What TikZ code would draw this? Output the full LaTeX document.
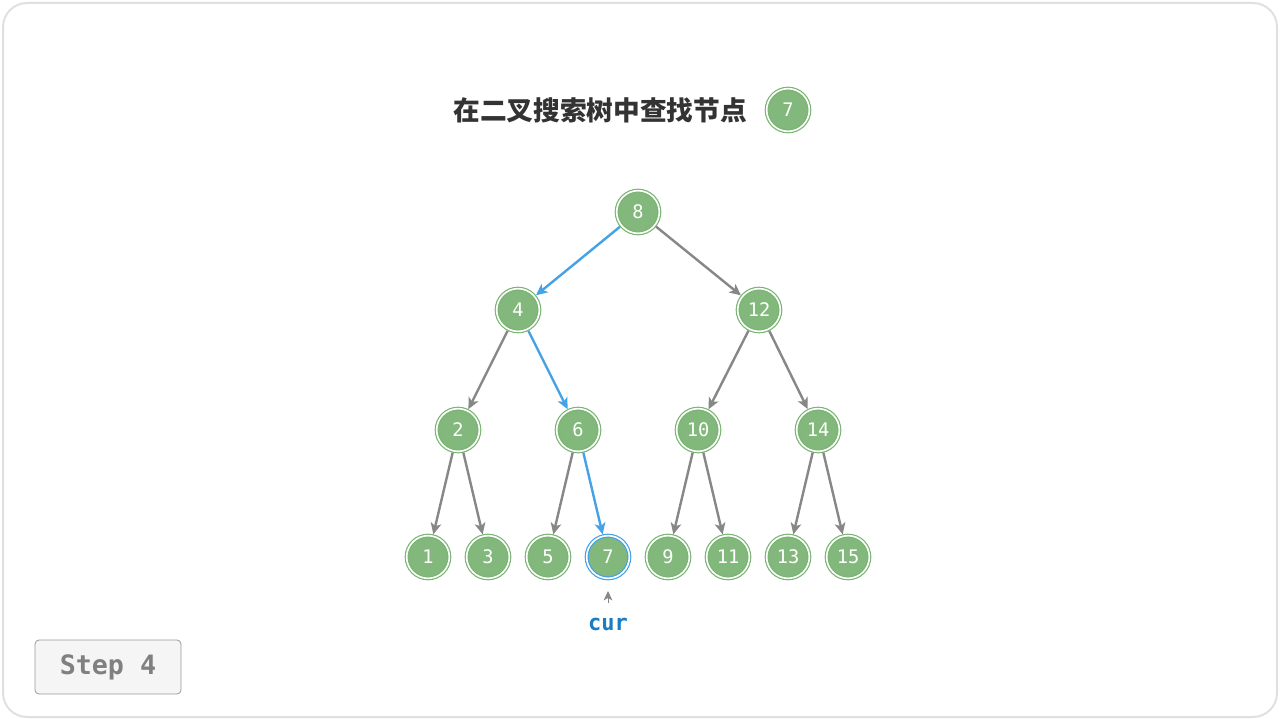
\documentclass[tikz,border=0pt]{standalone}
\usepackage{fontspec}
\setmainfont{DejaVu Sans}
\setmonofont{DejaVu Sans Mono}
\newfontfamily\cjk{Noto Sans CJK SC}
\usetikzlibrary{arrows.meta}
\definecolor{ngreen}{HTML}{82B87B}
\definecolor{nring}{HTML}{7AB573}
\definecolor{egray}{HTML}{878787}
\definecolor{eblue}{HTML}{45A2E6}
\definecolor{curblue}{HTML}{1B7BC3}
\definecolor{ttl}{HTML}{333333}
\tikzset{
  tn/.style={circle, fill=ngreen, draw=nring, double=white, line width=0.9pt, double distance=1.2pt,
    minimum size=32pt, inner sep=0pt, text=white, font=\ttfamily\fontsize{14}{14}\selectfont},
  tncur/.style={tn, draw=eblue},
  edge/.style={draw=egray, line width=1.8pt, -{Stealth[length=8.5pt,width=8pt,inset=2.2pt]}, shorten >=1pt, shorten <=1pt},
  bedge/.style={edge, draw=eblue},
}
\begin{document}
\begin{tikzpicture}[x=0.75pt,y=-0.75pt]
\useasboundingbox (0,0) rectangle (1280,720);
\draw[draw=black!12, fill=white, line width=1.5pt, rounded corners=18pt] (3,3) rectangle (1277,717);

\node[font=\cjk\bfseries\fontsize{20}{20}\selectfont, text=ttl] (title) at (600,110) {在二叉搜索树中查找节点};
\node[tn] (t7) at (788,110) {7};

\node[tn] (n8) at (638,212) {8};
\node[tn] (n4) at (518,310) {4};
\node[tn] (n12) at (759,310) {12};
\node[tn] (n2) at (458,430) {2};
\node[tn] (n6) at (578,430) {6};
\node[tn] (n10) at (698,430) {10};
\node[tn] (n14) at (818,430) {14};
\node[tn] (n1) at (428,557) {1};
\node[tn] (n3) at (488,557) {3};
\node[tn] (n5) at (548,557) {5};
\node[tncur] (n7) at (608,557) {7};
\node[tn] (n9) at (668,557) {9};
\node[tn] (n11) at (728,557) {11};
\node[tn] (n13) at (788,557) {13};
\node[tn] (n15) at (848,557) {15};

\draw[bedge] (n8) -- (n4);
\draw[edge] (n8) -- (n12);
\draw[edge] (n4) -- (n2);
\draw[bedge] (n4) -- (n6);
\draw[edge] (n12) -- (n10);
\draw[edge] (n12) -- (n14);
\draw[edge] (n2) -- (n1);
\draw[edge] (n2) -- (n3);
\draw[edge] (n6) -- (n5);
\draw[bedge] (n6) -- (n7);
\draw[edge] (n10) -- (n9);
\draw[edge] (n10) -- (n11);
\draw[edge] (n14) -- (n13);
\draw[edge] (n14) -- (n15);

\node[font=\ttfamily\bfseries\fontsize{16.5}{16.5}\selectfont, text=curblue] (cur) at (608,624) {cur};
\coordinate (cura) at (608,603);
\coordinate (curb) at (608,591);
\draw[draw=egray, line width=0.6pt, -{Stealth[length=7pt,width=6.5pt,inset=1.8pt]}] (cura) -- (curb);

\node[draw=black!40, fill=black!4, rounded corners=3pt, line width=0.6pt, minimum width=109.5pt, minimum height=40.5pt,
  font=\ttfamily\bfseries\fontsize{20}{20}\selectfont, text=black!50] (step) at (108,667) {Step 4};
\end{tikzpicture}
\end{document}
